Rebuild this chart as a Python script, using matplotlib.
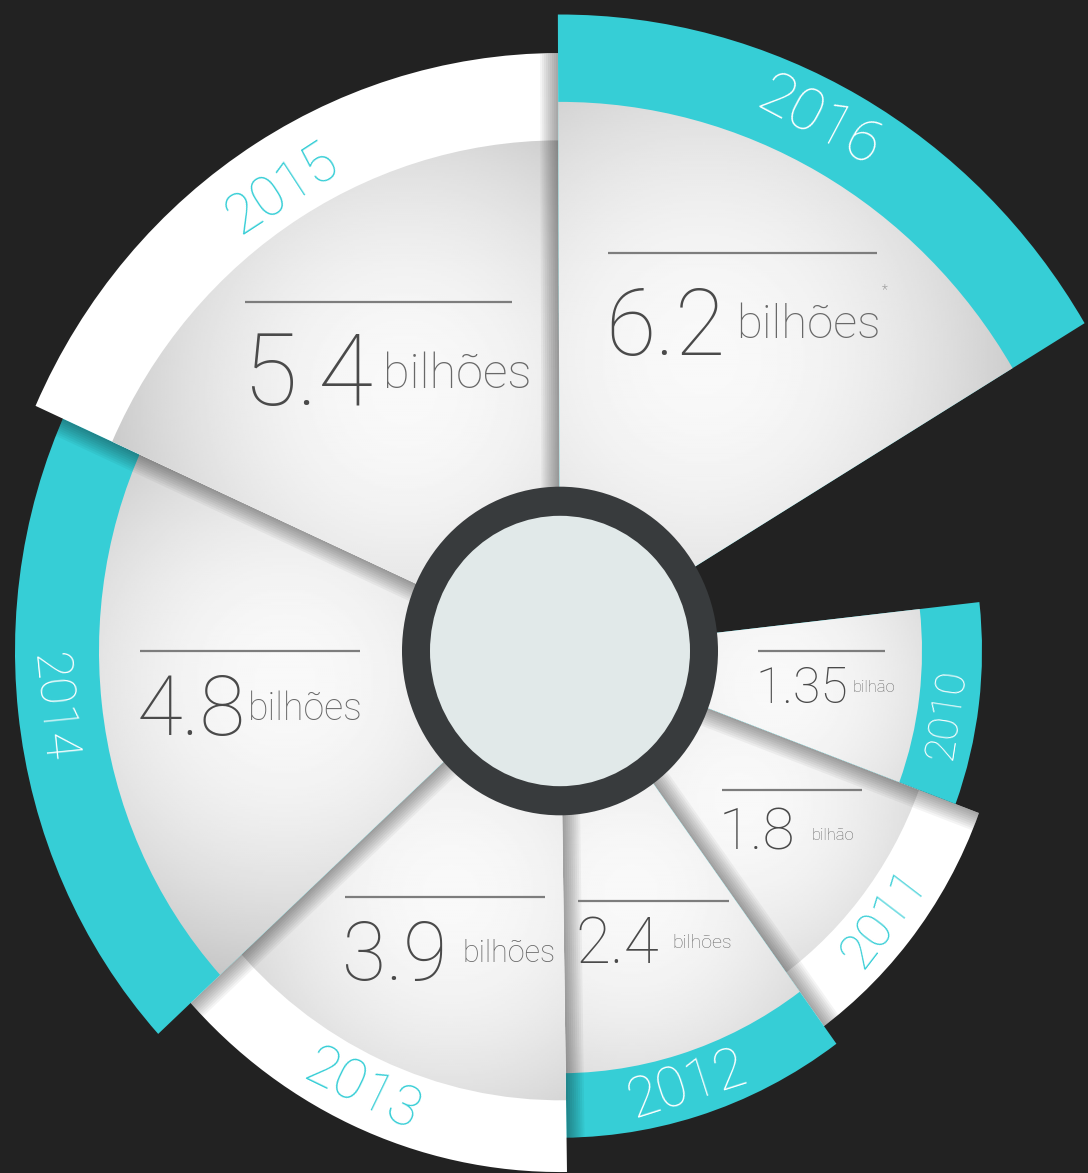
import numpy as np
import matplotlib
matplotlib.use('Agg')
import matplotlib.pyplot as plt
from matplotlib.patches import Wedge, Circle, Polygon
from matplotlib import font_manager as fm

# data
years = ['2010', '2011', '2012', '2013', '2014', '2015', '2016']
values = [1.35, 1.8, 2.4, 3.9, 4.8, 5.4, 6.2]
units = ['bilhão', 'bilhão', 'bilhões', 'bilhões', 'bilhões', 'bilhões', 'bilhões']

# layout (canvas pixels, picture is slightly stretched vertically)
W, H, S = 1088, 1173, 1.04
CX, CY = 560, (1173 - 651) / S
theta1 = [-20.4, -57, -92, -140, 150, 88, 31]
theta2 = [6.4, -20.4, -53.8, -89.2, 222.5, 155.8, 90.2]
r_outer = [422, 447, 468, 501, 545, 575, 612]
band_w = [60, 64, 62, 69, 84, 84, 84]
year_ang = [-9, -38.5, -73, 245, 186, 122, 63]
year_off = [0, 0, 0, 0, 8, -10, 0]
year_size = [30, 36, 40, 40, 36, 40, 43]
draw_order = [1, 0, 2, 3, 4, 5, 6]
# (top sector, edge, sector underneath)
shadows = [(0, 1, 1), (2, 2, 1), (3, 2, 2), (4, 2, 3), (5, 2, 4), (6, 2, 5)]

lab_r = [198, 210, 241, 319.6, 420, 460.3, 385.7]
lab_th = [0, -39.5, -85.7, 227.7, 180, 133.2, 82.85]
line_len = [127, 140, 151, 200, 220, 267, 269]
num_size = [36, 42, 46, 58, 60, 72, 66]
unit_size = [12, 12, 14, 22, 27, 35, 34]
num_drop = [52, 60, 62, 83, 84, 103, 102]
unit_drop = [41, 50, 47, 65, 69, 86, 85]
unit_gap = [5, 16, 14, 15, 2, 10, 11]

CYAN = '#36ced6'
BG = '#222222'


def light_font():
    prefs = ['Roboto', 'Lato', 'Open Sans', 'Inter', 'Noto Sans']
    best = None
    for f in fm.fontManager.ttflist:
        if f.name not in prefs or f.style != 'normal' or f.stretch != 'normal':
            continue
        w = f.weight if isinstance(f.weight, (int, float)) else 400
        key = (abs(w - 250), prefs.index(f.name))
        if best is None or key < best[0]:
            best = (key, f.fname)
    if best is None:
        return fm.FontProperties(family='DejaVu Sans')
    return fm.FontProperties(fname=best[1])


BASE_FONT = light_font()


def font(size):
    p = BASE_FONT.copy()
    p.set_size(size)
    return p


fig = plt.figure(figsize=(W / 100, H / 100), dpi=100)
fig.patch.set_facecolor(BG)
ax = fig.add_axes([0, 0, 1, 1])
ax.set_facecolor(BG)

xs = np.linspace(0, W, 544)
ys = np.linspace(0, H / S, 564)
X, Y = np.meshgrid(xs, ys)

outer_patches = {}
for k, i in enumerate(draw_order):
    z = 10 + 10 * k
    band_col = CYAN if i % 2 == 0 else 'white'
    band = Wedge((CX, CY), r_outer[i], theta1[i], theta2[i], facecolor=band_col,
                 edgecolor='none', zorder=z)
    ax.add_patch(band)
    outer_patches[i] = band

    # light grey face with a soft glow
    r_in = r_outer[i] - band_w[i]
    inner = Wedge((CX, CY), r_in, theta1[i], theta2[i], facecolor='none',
                  edgecolor='none', zorder=z + 1)
    ax.add_patch(inner)
    a = np.radians(year_ang[i])
    gx, gy = CX + 0.6 * r_in * np.cos(a), CY + 0.6 * r_in * np.sin(a)
    d = np.hypot(X - gx, Y - gy) / (0.55 * r_in)
    light = 0.975 - 0.15 * np.clip(d, 0, 1.15) ** 2
    im = ax.imshow(light, extent=(0, W, 0, H / S), origin='lower', cmap='gray',
                   vmin=0, vmax=1, aspect='auto', interpolation='bilinear', zorder=z + 1)
    im.set_clip_path(inner)

# soft shadows cast by each sector on the one beneath
for top, edge, below in shadows:
    k = draw_order.index(top)
    z = 10 + 10 * k - 1
    a = np.radians(theta2[top] if edge == 2 else theta1[top])
    u = np.array([np.cos(a), np.sin(a)])
    n = np.array([-np.sin(a), np.cos(a)]) if edge == 2 else np.array([np.sin(a), -np.cos(a)])
    c = np.array([CX, CY])
    R = r_outer[below] + 10
    for step in range(1, 10):
        w = 2.0 * step
        poly = Polygon([c, c + R * u, c + R * u + w * n, c + w * n], closed=True,
                       facecolor='black', edgecolor='none', alpha=0.045, zorder=z)
        ax.add_patch(poly)
        poly.set_clip_path(outer_patches[below])

# centre ring
ax.add_patch(Circle((CX, CY), 158, facecolor='#383b3d', edgecolor='none', zorder=90))
ax.add_patch(Circle((CX, CY), 130, facecolor='#e1e9e9', edgecolor='none', zorder=91))

# year labels along the bands
for i, yr in enumerate(years):
    a = np.radians(year_ang[i])
    r = r_outer[i] - band_w[i] / 2 + year_off[i]
    x, y = CX + r * np.cos(a), CY + r * np.sin(a)
    if 0 < year_ang[i] < 180:
        rot = np.degrees(np.arctan2(-S * np.cos(a), np.sin(a)))
    else:
        rot = np.degrees(np.arctan2(S * np.cos(a), -np.sin(a)))
    col = 'white' if i % 2 == 0 else CYAN
    ax.text(x, y, yr, fontproperties=font(year_size[i]), color=col, rotation=rot,
            rotation_mode='anchor', ha='center', va='center', zorder=100)

# value labels
renderer = fig.canvas.get_renderer()
for i, v in enumerate(values):
    a = np.radians(lab_th[i])
    x0, y0 = CX + lab_r[i] * np.cos(a), CY + lab_r[i] * np.sin(a)
    ax.plot([x0, x0 + line_len[i]], [y0, y0], color='#7d7d7d', lw=1.6,
            solid_capstyle='butt', zorder=100)
    t = ax.text(x0 - 3, y0 - num_drop[i] / S, f"{v:g}", fontproperties=font(num_size[i]),
                color='#4a4a4a', ha='left', va='baseline', zorder=100)
    bb = t.get_window_extent(renderer)
    ut = ax.text(bb.x1 + unit_gap[i], y0 - unit_drop[i] / S, units[i],
                 fontproperties=font(unit_size[i]), color='#686868', ha='left',
                 va='baseline', zorder=100)
    if years[i] == '2016':
        ub = ut.get_window_extent(renderer)
        ax.text(ub.x1 + 1, y0 - 30 / S, '*', fontproperties=font(10), color='#686868',
                ha='left', va='top', zorder=100)

ax.set_xlim(0, W)
ax.set_ylim(0, H / S)
ax.axis('off')

fig.savefig('out.png', dpi=100, facecolor=BG)
plt.close(fig)
